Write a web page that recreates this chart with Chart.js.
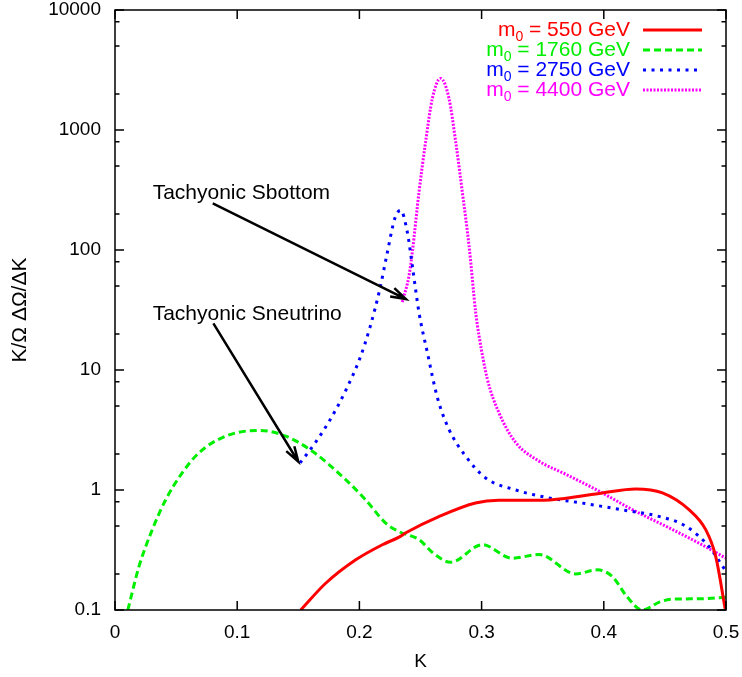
<!DOCTYPE html>
<html>
<head>
<meta charset="utf-8">
<script src="https://cdn.jsdelivr.net/npm/chart.js@4"></script>
<style>
html,body{margin:0;padding:0;background:#fff;}
</style>
</head>
<body>
<canvas id="myChart" width="742" height="677"></canvas>
<script>
// series: K values and K/Omega dOmega/dK values
var k550=[0.152,0.1724,0.197,0.2188,0.2324,0.238,0.265,0.295,0.314,0.347,0.369,0.3988,0.426,0.448,0.4697,0.4834,0.4916,0.4995];
var v550=[0.1,0.167,0.262,0.35,0.405,0.44,0.60,0.78,0.82,0.82,0.853,0.946,1.02,0.946,0.686,0.467,0.279,0.1];

var k1760=[0.0105,0.0196,0.0305,0.0415,0.055,0.0687,0.0906,0.118,0.1397,0.1615,0.1888,0.205,0.2215,0.2324,0.249,0.26,0.2747,0.3006,0.325,0.347,0.377,0.3947,0.407,0.419,0.4315,0.446,0.456,0.478,0.5];
var v1760=[0.1,0.23,0.467,0.83,1.39,2.04,2.81,3.14,2.81,2.1,1.22,0.83,0.53,0.45,0.385,0.30,0.25,0.35,0.27,0.29,0.20,0.216,0.19,0.129,0.1,0.117,0.123,0.124,0.128];

var k2750=[0.1514,0.1637,0.1759,0.1882,0.2005,0.2087,0.2169,0.2226,0.2291,0.2338,0.2392,0.2433,0.2488,0.2556,0.2638,0.2733,0.287,0.3033,0.328,0.355,0.385,0.418,0.445,0.467,0.486,0.5];
var v2750=[1.68,2.46,3.83,6.56,12.6,22.8,48.2,92.6,185,214,141,74,30,14,5.9,3.2,1.91,1.26,1.0,0.86,0.77,0.676,0.603,0.50,0.338,0.21];

var k4400=[0.2351,0.2406,0.2433,0.2488,0.2542,0.2597,0.2665,0.2733,0.2788,0.2842,0.2897,0.2952,0.2979,0.3047,0.3142,0.328,0.347,0.369,0.396,0.4233,0.4506,0.478,0.5];
var v4400=[36.7,61,96,305,798,1837,2692,1837,798,305,109,30,19.3,8.4,4.4,2.48,1.74,1.35,0.98,0.686,0.50,0.36,0.27];

var massLabels=['550','1760','2750','4400'];
var colors=['#ff0000','#00ee00','#0000ff','#ff00ff'];

var yTicks=[0.1,1,10,100,1000,10000];
var yMinorFactors=[2,5,8];
var xTicks=[0,0.1,0.2,0.3,0.4,0.5];

// annotations (data coordinates)
var noteText=['Tachyonic Sbottom','Tachyonic Sneutrino'];
var noteK=[0.0308,0.0308];
var noteV=[298,29.3];
var arrowFromK=[0.08,0.0805], arrowFromV=[245,24.5];
var arrowToK=[0.2381,0.15], arrowToV=[39,1.72];

var FONT='"Liberation Sans", Arial, sans-serif';

function pts(k,v){ return k.map(function(x,i){ return {x:x,y:v[i]}; }); }

var styles=[
  {w:3,dash:[]},
  {w:3,dash:[7,4]},
  {w:3,dash:[3,5.5]},
  {w:3,dash:[2,1.5]}
];
var allK=[k550,k1760,k2750,k4400], allV=[v550,v1760,v2750,v4400];

var datasets=massLabels.map(function(m,i){
  return {
    label:'m0 = '+m+' GeV',
    data:pts(allK[i],allV[i]),
    borderColor:colors[i],
    borderWidth:styles[i].w,
    borderDash:styles[i].dash,
    fill:false,
    pointRadius:0,
    cubicInterpolationMode:'monotone'
  };
});

var framePlugin={
  id:'frame',
  afterDatasetsDraw:function(chart){
    var ctx=chart.ctx, a=chart.chartArea, xs=chart.scales.x, ys=chart.scales.y;
    ctx.save();
    ctx.strokeStyle='#000';
    ctx.lineWidth=1.5;
    ctx.setLineDash([]);
    ctx.strokeRect(a.left,a.top,a.right-a.left,a.bottom-a.top);
    ctx.beginPath();
    xTicks.forEach(function(t){
      var x=xs.getPixelForValue(t);
      ctx.moveTo(x,a.bottom); ctx.lineTo(x,a.bottom-9);
      ctx.moveTo(x,a.top); ctx.lineTo(x,a.top+9);
    });
    yTicks.forEach(function(t,j){
      var y=ys.getPixelForValue(t);
      ctx.moveTo(a.left,y); ctx.lineTo(a.left+9,y);
      ctx.moveTo(a.right,y); ctx.lineTo(a.right-9,y);
      if(j<yTicks.length-1){
        yMinorFactors.forEach(function(f){
          var ym=ys.getPixelForValue(t*f);
          ctx.moveTo(a.left,ym); ctx.lineTo(a.left+4.5,ym);
          ctx.moveTo(a.right,ym); ctx.lineTo(a.right-4.5,ym);
        });
      }
    });
    ctx.stroke();

    // annotations with arrows
    ctx.fillStyle='#000';
    ctx.font='21px '+FONT;
    ctx.textAlign='left';
    ctx.textBaseline='middle';
    noteText.forEach(function(t,i){
      ctx.fillText(t,xs.getPixelForValue(noteK[i]),ys.getPixelForValue(noteV[i]));
      var x1=xs.getPixelForValue(arrowFromK[i]), y1=ys.getPixelForValue(arrowFromV[i]);
      var x2=xs.getPixelForValue(arrowToK[i]), y2=ys.getPixelForValue(arrowToV[i]);
      var ang=Math.atan2(y2-y1,x2-x1), hl=16, ha=0.3;
      ctx.lineWidth=2.5;
      ctx.beginPath();
      ctx.moveTo(x1,y1); ctx.lineTo(x2,y2);
      ctx.moveTo(x2-hl*Math.cos(ang-ha),y2-hl*Math.sin(ang-ha));
      ctx.lineTo(x2,y2);
      ctx.lineTo(x2-hl*Math.cos(ang+ha),y2-hl*Math.sin(ang+ha));
      ctx.stroke();
    });

    // legend, gnuplot style: text right aligned, line sample to the right
    var tx=630, lx1=643, lx2=702;
    chart.data.datasets.forEach(function(ds,i){
      var y=a.top+20+20*i;
      var pre='m', sub='0', post=' = '+massLabels[i]+' GeV';
      ctx.font='21px '+FONT;
      var wPre=ctx.measureText(pre).width, wPost=ctx.measureText(post).width;
      ctx.font='14px '+FONT;
      var wSub=ctx.measureText(sub).width;
      var x0=tx-wPre-wSub-wPost;
      ctx.fillStyle=ds.borderColor;
      ctx.textBaseline='alphabetic';
      ctx.font='21px '+FONT;
      ctx.fillText(pre,x0,y+6);
      ctx.fillText(post,x0+wPre+wSub,y+6);
      ctx.font='14px '+FONT;
      ctx.fillText(sub,x0+wPre,y+11);
      ctx.strokeStyle=ds.borderColor;
      ctx.lineWidth=ds.borderWidth;
      ctx.setLineDash(ds.borderDash);
      ctx.beginPath();
      ctx.moveTo(lx1,y); ctx.lineTo(lx2,y);
      ctx.stroke();
      ctx.setLineDash([]);
    });
    ctx.restore();
  }
};

var ctxC=document.getElementById('myChart').getContext('2d');
var chart=new Chart(ctxC,{
  type:'line',
  data:{datasets:datasets},
  options:{
    responsive:false,
    animation:false,
    layout:{padding:{left:0,right:16,top:10,bottom:0}},
    plugins:{legend:{display:false},tooltip:{enabled:false}},
    scales:{
      x:{
        type:'linear',min:0,max:0.5,
        afterBuildTicks:function(s){ s.ticks=xTicks.map(function(v){return {value:v};}); },
        ticks:{color:'#000',padding:11,font:{family:FONT,size:19},maxRotation:0,
          callback:function(v){ return String(Math.round(v*10)/10); }},
        grid:{display:false,drawTicks:false},
        border:{display:false},
        title:{display:true,text:'K',color:'#000',font:{family:FONT,size:19},padding:{top:0,bottom:4}},
        afterFit:function(s){ s.height=67; s.paddingLeft=0; s.paddingRight=0; }
      },
      y:{
        type:'logarithmic',min:0.1,max:10000,
        afterBuildTicks:function(s){ s.ticks=yTicks.map(function(v){return {value:v};}); },
        ticks:{color:'#000',padding:14,font:{family:FONT,size:19},
          callback:function(v){ return String(v); }},
        grid:{display:false,drawTicks:false},
        border:{display:false},
        title:{display:true,text:'K/Ω ΔΩ/ΔK',color:'#000',font:{family:FONT,size:21},padding:{top:8,bottom:0}},
        afterFit:function(s){ s.width=115; s.paddingTop=0; s.paddingBottom=0; }
      }
    }
  },
  plugins:[framePlugin]
});
</script>
</body>
</html>
